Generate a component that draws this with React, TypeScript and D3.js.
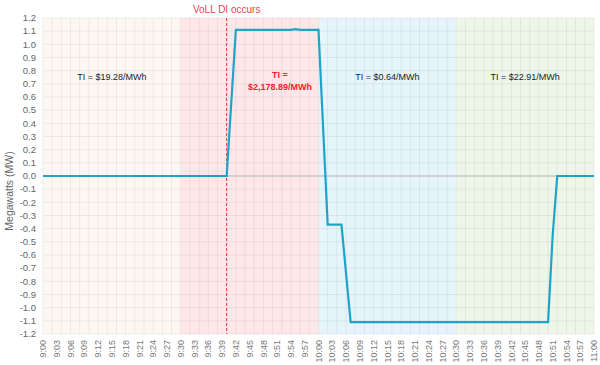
import React from "react";
import * as d3 from "d3";

// power output (MW) sampled at the times where the trace changes
const times = ["9:00", "9:40", "9:42", "9:54", "9:55", "9:56", "10:00", "10:02", "10:05", "10:07", "10:50", "10:51", "10:52", "11:00"];
const megawatts = [0, 0, 1.11, 1.11, 1.115, 1.11, 1.11, -0.37, -0.37, -1.11, -1.11, -0.45, 0, 0];

const periodStarts = ["9:00", "9:30", "10:00", "10:30"];
const periodEnds = ["9:30", "10:00", "10:30", "11:00"];
const periodColors = ["#fcf8f1", "#fde7e9", "#e5f5fb", "#eef6ea"];
const periodLabels = [["TI = $19.28/MWh"], ["TI =", "$2,178.89/MWh"], ["TI = $0.64/MWh"], ["TI = $22.91/MWh"]];

const eventTime = "9:40";
const eventLabel = "VoLL DI occurs";

const yTicks = d3.range(-12, 13).map((d) => d / 10);

const toMin = (t: string) => {
  const [h, m] = t.split(":").map(Number);
  return (h - 9) * 60 + m;
};
const fmt = (m: number) => `${9 + Math.floor(m / 60)}:${String(m % 60).padStart(2, "0")}`;

export default function App() {
  const width = 600;
  const height = 365;
  const margin = { top: 18, right: 6, bottom: 31, left: 43 };

  const x = d3.scaleLinear().domain([0, 120]).range([margin.left, width - margin.right]);
  const y = d3.scaleLinear().domain([-1.2, 1.2]).range([height - margin.bottom, margin.top]);

  const xTicks = d3.range(0, 121, 3);
  const xGrid = d3.range(0, 121, 2);

  const line = d3
    .line<number>()
    .x((_, i) => x(toMin(times[i])))
    .y((d) => y(d));

  const font = "Liberation Sans, Arial, sans-serif";
  const top = y(1.2);
  const bottom = y(-1.2);

  return (
    <svg width={width} height={height} style={{ position: "absolute", left: 0, top: 0 }} fontFamily={font}>
      <rect width={width} height={height} fill="#fff" />
      {periodStarts.map((s, i) => (
        <rect
          key={s}
          x={x(toMin(s))}
          y={top}
          width={x(toMin(periodEnds[i])) - x(toMin(s))}
          height={bottom - top}
          fill={periodColors[i]}
        />
      ))}
      {xGrid.map((m) => (
        <line key={"gx" + m} x1={x(m)} x2={x(m)} y1={top} y2={bottom} stroke="#000" strokeOpacity={0.06} />
      ))}
      {yTicks.map((v) => (
        <line key={"gy" + v} x1={x(0)} x2={x(120)} y1={y(v)} y2={y(v)} stroke="#000" strokeOpacity={0.06} />
      ))}
      <line x1={x(0)} x2={x(120)} y1={y(0)} y2={y(0)} stroke="#c8c8c8" strokeWidth={1.5} />
      {yTicks.map((v) => (
        <text key={"ty" + v} x={36} y={y(v)} dy="0.35em" textAnchor="end" fontSize={9.5} fill="#666">
          {v.toFixed(1)}
        </text>
      ))}
      {xTicks.map((m) => (
        <text
          key={"tx" + m}
          transform={`translate(${x(m)},${bottom + 6}) rotate(-90)`}
          dy="0.35em"
          textAnchor="end"
          fontSize={9}
          fill="#777"
        >
          {fmt(m)}
        </text>
      ))}
      <text transform={`translate(13,${191}) rotate(-90)`} textAnchor="middle" fontSize={10.5} fill="#666">
        Megawatts (MW)
      </text>
      <line
        x1={x(toMin(eventTime))}
        x2={x(toMin(eventTime))}
        y1={top}
        y2={bottom}
        stroke="#e8354a"
        strokeWidth={1}
        strokeDasharray="3,2"
      />
      <text x={x(toMin(eventTime))} y={13} textAnchor="middle" fontSize={10} fill="#f0424f">
        {eventLabel}
      </text>
      <path d={line(megawatts) || ""} fill="none" stroke="#1fa4c8" strokeWidth={2.2} />
      {periodLabels.map((lines, i) => {
        const cx = i === 1 ? 280 : (x(toMin(periodStarts[i])) + x(toMin(periodEnds[i]))) / 2;
        const red = i === 1;
        return (
          <text
            key={"pl" + i}
            x={cx}
            y={lines.length > 1 ? 78 : 80}
            textAnchor="middle"
            fontSize={9}
            fontWeight={red ? "bold" : "normal"}
            fill={red ? "#f0242f" : "#222"}
          >
            {lines.map((l, j) => (
              <tspan key={j} x={cx} dy={j === 0 ? 0 : 12}>
                {l}
              </tspan>
            ))}
          </text>
        );
      })}
    </svg>
  );
}
